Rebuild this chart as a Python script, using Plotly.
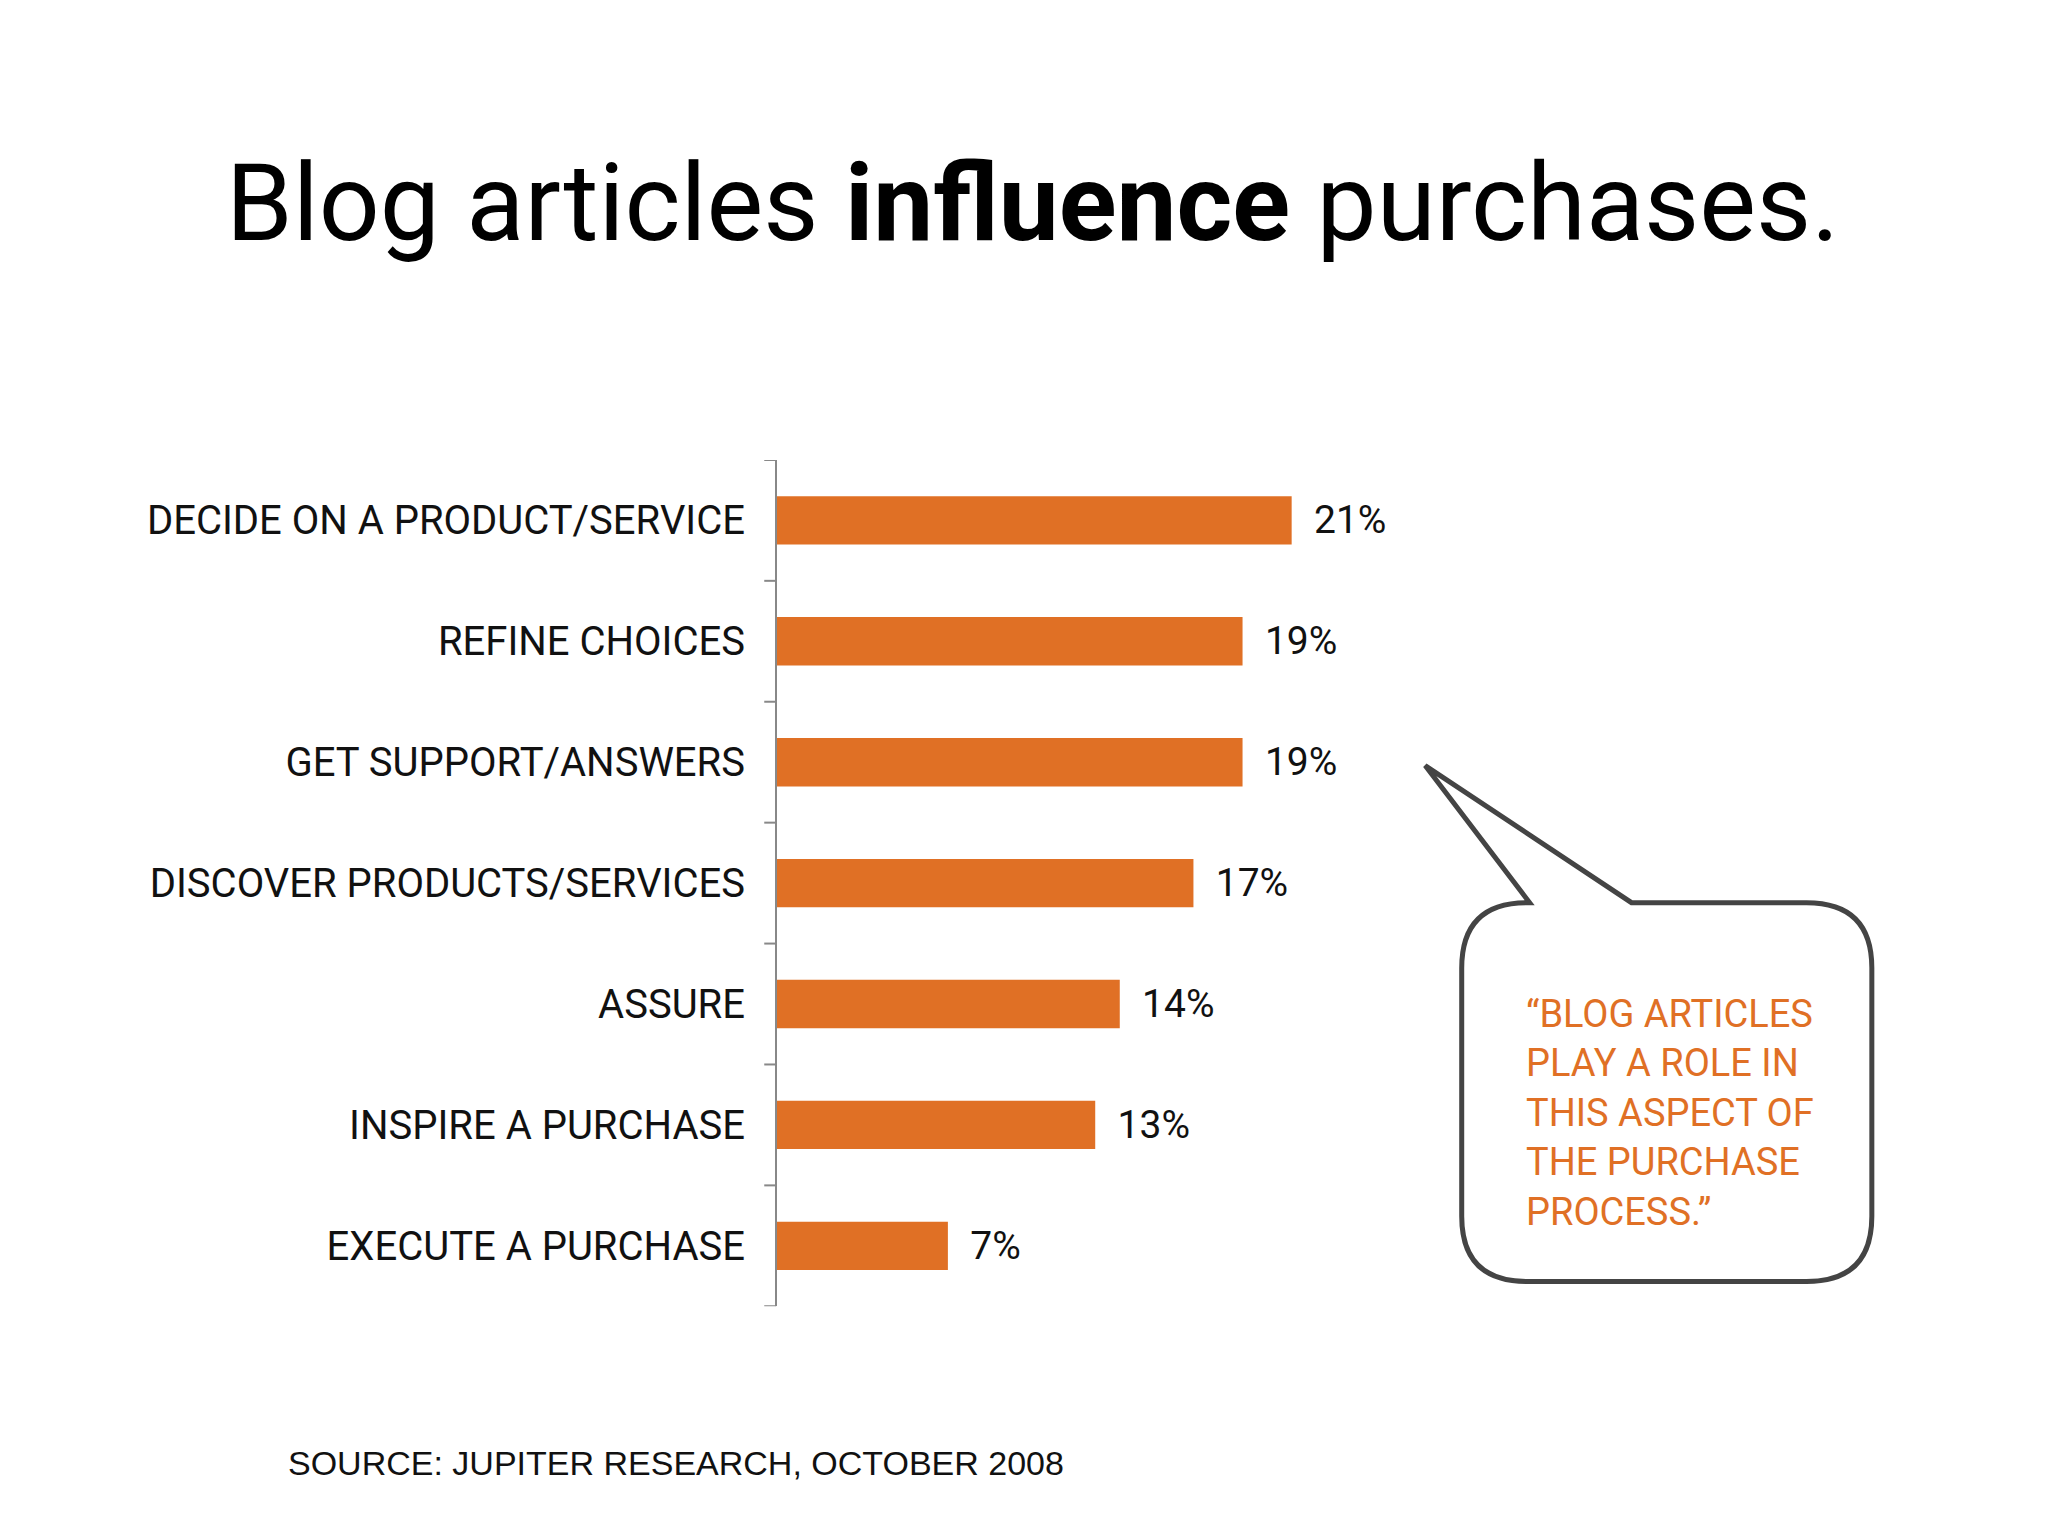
import plotly.graph_objects as go

categories = ["DECIDE ON A PRODUCT/SERVICE", "REFINE CHOICES", "GET SUPPORT/ANSWERS",
              "DISCOVER PRODUCTS/SERVICES", "ASSURE", "INSPIRE A PURCHASE", "EXECUTE A PURCHASE"]
values = [21, 19, 19, 17, 14, 13, 7]
labels = ["21%", "19%", "19%", "17%", "14%", "13%", "7%"]

W, H = 1568.0, 1176.0
def X(x): return x / W
def Y(y): return 1 - y / H

ypos = list(range(len(categories)))[::-1]
font = "Roboto, Liberation Sans, sans-serif"

fig = go.Figure(go.Bar(
    x=values, y=ypos, orientation="h", width=0.4,
    marker=dict(color="#E07025", line=dict(width=0)),
    text=["  " + t for t in labels], textposition="outside", cliponaxis=False,
    textfont=dict(size=39, color="#111", family=font),
))

x0d, x1d = X(588), X(588 + 30 * 18.8)
fig.update_layout(
    width=2048, height=1536, margin=dict(l=0, r=0, t=0, b=0),
    paper_bgcolor="white", plot_bgcolor="white", showlegend=False,
    xaxis=dict(domain=[x0d, x1d], range=[0, 30], visible=False),
    yaxis=dict(domain=[Y(994), Y(346)], range=[-0.5, 6.5], tickvals=ypos, ticktext=categories,
               showgrid=False, zeroline=False, showline=False, ticks="", ticklabelstandoff=30,
               tickfont=dict(size=40, color="#111", family=font)),
)

shapes = [dict(type="line", xref="paper", yref="y", x0=x0d, x1=x0d, y0=-0.5, y1=6.5,
               line=dict(color="#888", width=2))]
for k in range(8):
    shapes.append(dict(type="line", xref="paper", yref="y", x0=x0d - X(9), x1=x0d,
                       y0=k - 0.5, y1=k - 0.5, line=dict(color="#888", width=2)))

l, r, t, b, rad = 1113, 1427, 685, 975, 50
path = f"M {X(1165)},{Y(t)} L {X(1085)},{Y(580)} L {X(1243)},{Y(t)} L {X(r-rad)},{Y(t)} "
path += f"Q {X(r)},{Y(t)} {X(r)},{Y(t+rad)} L {X(r)},{Y(b-rad)} "
path += f"Q {X(r)},{Y(b)} {X(r-rad)},{Y(b)} L {X(l+rad)},{Y(b)} "
path += f"Q {X(l)},{Y(b)} {X(l)},{Y(b-rad)} L {X(l)},{Y(t+rad)} "
path += f"Q {X(l)},{Y(t)} {X(l+rad)},{Y(t)} Z"
shapes.append(dict(type="path", xref="paper", yref="paper", path=path,
                   line=dict(color="#444", width=5), fillcolor="white"))
fig.update_layout(shapes=shapes)

fig.add_annotation(xref="paper", yref="paper", x=0.5, y=Y(150), yanchor="middle", showarrow=False,
                   text="Blog articles <b>influence</b> purchases.",
                   font=dict(size=107, color="#000", family=font))
fig.add_annotation(xref="paper", yref="paper", x=X(1161), y=Y(752), xanchor="left", yanchor="top",
                   showarrow=False, align="left",
                   text="“BLOG ARTICLES<br>PLAY A ROLE IN<br>THIS ASPECT OF<br>THE PURCHASE<br>PROCESS.”",
                   font=dict(size=38, color="#E07025", family=font))
fig.add_annotation(xref="paper", yref="paper", x=X(213), y=Y(1114), xanchor="left", yanchor="middle",
                   showarrow=False, text="SOURCE: JUPITER RESEARCH, OCTOBER 2008",
                   font=dict(size=34, color="#111", family="Liberation Sans, Arial, sans-serif"))

fig.write_html("out.html")
